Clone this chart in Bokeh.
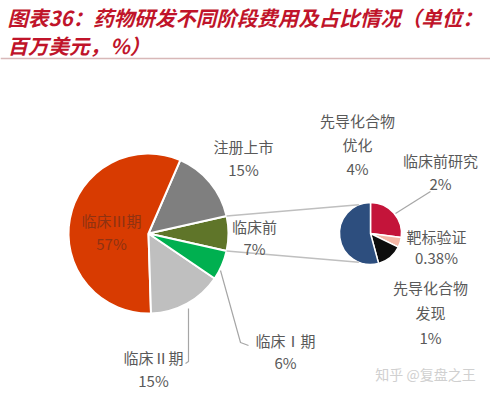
import numpy as np
from bokeh.plotting import figure
from bokeh.models import Range1d
from bokeh.core.properties import value
from bokeh.embed import file_html
from bokeh.resources import INLINE

# ---------------- data ----------------
main_labels = ["临床前", "注册上市", "临床Ⅲ期", "临床Ⅱ期", "临床Ⅰ期"]
main_values = [7, 15, 57, 15, 6]
main_pct = ["7%", "15%", "57%", "15%", "6%"]

sub_labels = ["临床前研究", "靶标验证", "先导化合物发现", "先导化合物优化"]
sub_values = [2, 0.38, 1, 4]
sub_pct = ["2%", "0.38%", "1%", "4%"]

title_lines = ["图表36：药物研发不同阶段费用及占比情况（单位：", "百万美元，%）"]
watermark = "知乎 @复盘之王"

# ---------------- styles / layout ----------------
W, H = 490, 394
FONT = "Noto Sans CJK SC"
main_colors = ["#5F7529", "#7F7F7F", "#D83B01", "#BFBFBF", "#00B050"]
sub_colors = ["#C4143A", "#F4B6A6", "#0D0D0D", "#2D4E7E"]
LBL = "#595959"


def Y(y):
    return H - y


p = figure(width=W, height=H, output_backend="svg", toolbar_location=None,
           x_range=Range1d(0, W), y_range=Range1d(0, H), min_border=0)
p.axis.visible = False
p.grid.visible = False
p.outline_line_color = None
p.background_fill_color = "white"
p.border_fill_color = "white"

# ---------------- main pie ----------------
mcx, mcy, mr = 148, Y(233), 80
mv = np.array(main_values, dtype=float)
mfrac = mv / mv.sum() * 2 * np.pi
m_start0 = -mfrac[0] / 2
m_ends = m_start0 + np.cumsum(mfrac)
m_starts = m_ends - mfrac
p.wedge(x=mcx, y=mcy, radius=mr, start_angle=list(m_starts), end_angle=list(m_ends),
        fill_color=main_colors, line_color="white", line_width=2)

# ---------------- secondary pie ----------------
scx, scy, sr = 370, Y(233), 31
sv = np.array(sub_values, dtype=float)
sfrac = sv / sv.sum() * 2 * np.pi
s_hi = np.pi / 2 - np.concatenate([[0], np.cumsum(sfrac)[:-1]])
s_lo = s_hi - sfrac
p.wedge(x=scx, y=scy, radius=sr, start_angle=list(s_lo), end_angle=list(s_hi),
        fill_color=sub_colors, line_color="white", line_width=1.5)

# connector lines between pies
a_top, a_bot = m_ends[0], m_starts[0]
p.line([mcx + mr * np.cos(a_top), scx + sr * np.cos(np.radians(112))],
       [mcy + mr * np.sin(a_top), scy + sr * np.sin(np.radians(112))],
       line_color="#BFBFBF", line_width=1.5)
p.line([mcx + mr * np.cos(a_bot), scx + sr * np.cos(np.radians(248))],
       [mcy + mr * np.sin(a_bot), scy + sr * np.sin(np.radians(248))],
       line_color="#BFBFBF", line_width=1.5)

# leader lines
lead_col = "#A6A6A6"
p.line([220, 240, 248], [Y(270), Y(342), Y(345)], line_color=lead_col, line_width=1.2)
p.line([188, 188, 185], [Y(308), Y(361), Y(363)], line_color=lead_col, line_width=1.2)
p.line([395, 430], [Y(213), Y(191)], line_color=lead_col, line_width=1.2)

# ---------------- labels ----------------
def label(x, y, lines, color=LBL, size="15px", dy=23):
    for i, t in enumerate(lines):
        p.text(x=[x], y=[Y(y + i * dy)], text=[t], text_font=value(FONT),
               text_font_size=size, text_color=color,
               text_align="center", text_baseline="middle")

label(111, 220, [main_labels[2], main_pct[2]], color="#8E3212")
label(243, 146, [main_labels[1], main_pct[1]])
label(254, 226, [main_labels[0], main_pct[0]], dy=22)
label(285, 340, [main_labels[4], main_pct[4]], dy=22)
label(153, 357, [main_labels[3], main_pct[3]], dy=23)

label(357, 120, ["先导化合物", "优化", sub_pct[3]], dy=24)
label(440, 160, [sub_labels[0], sub_pct[0]], dy=23)
label(436, 236, [sub_labels[1], sub_pct[1]], dy=21)
label(430, 287, ["先导化合物", "发现", sub_pct[2]], dy=25)

# ---------------- title ----------------
for i, t in enumerate(title_lines):
    p.text(x=[7], y=[Y(16 + i * 28)], text=[t], text_font=value(FONT),
           text_font_size="20.5px", text_font_style="bold italic", text_color="#C0142A",
           text_align="left", text_baseline="middle")
p.line([0, W], [Y(58), Y(58)], line_color="#D8B8B8", line_width=1.5)

# watermark
p.text(x=[425], y=[Y(373)], text=[watermark], text_font=value(FONT),
       text_font_size="14px", text_color="#D0D0D0", text_align="center",
       text_baseline="middle")

open("out.html", "w").write(file_html(p, INLINE))
